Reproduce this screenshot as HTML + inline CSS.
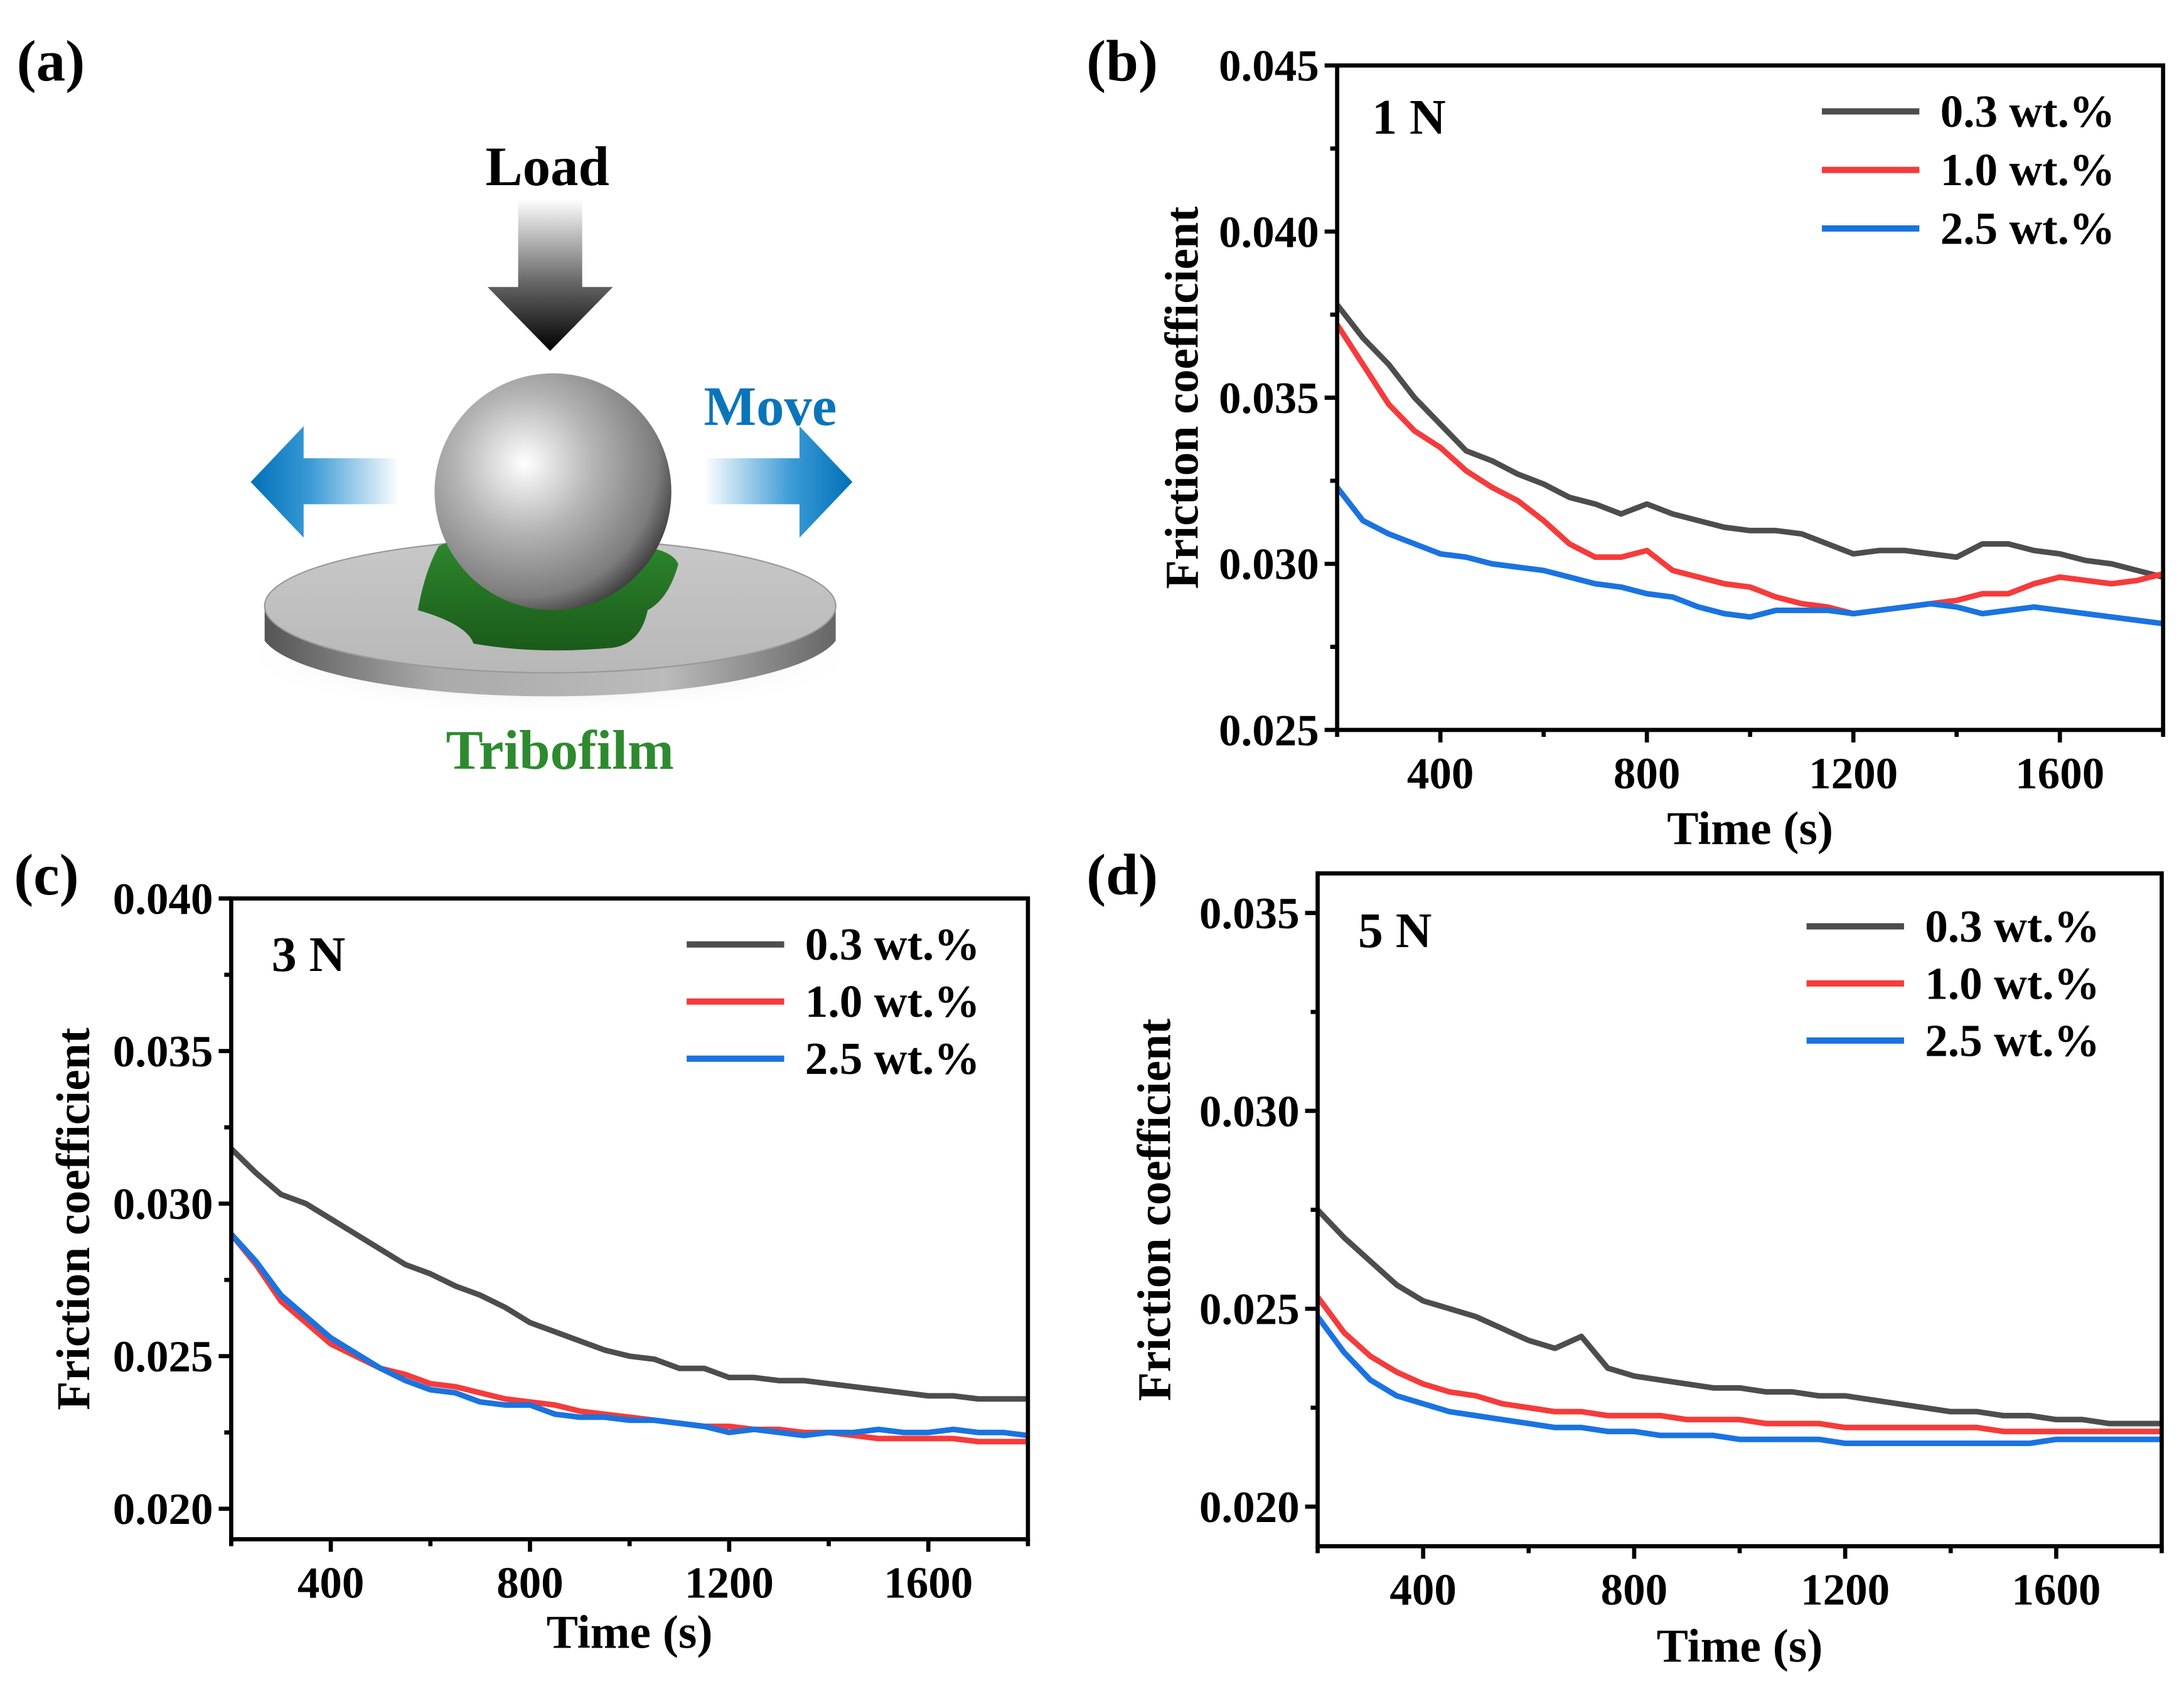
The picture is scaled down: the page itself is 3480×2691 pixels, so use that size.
<!DOCTYPE html>
<html><head><meta charset="utf-8"><title>Friction coefficient figure</title>
<style>
html,body{margin:0;padding:0;background:#fff;}
svg{display:block;font-family:"Liberation Serif",serif;font-weight:bold;}
</style></head>
<body>
<svg id="fig" width="3480" height="2691" viewBox="0 0 1568 1212.5" preserveAspectRatio="none" xmlns="http://www.w3.org/2000/svg">
<defs>
<linearGradient id="gLoad" x1="0" y1="0" x2="0" y2="1"><stop offset="0" stop-color="#fff"/><stop offset="0.55" stop-color="#666"/><stop offset="1" stop-color="#000"/></linearGradient>
<linearGradient id="gLeft" x1="1" y1="0" x2="0" y2="0"><stop offset="0" stop-color="#fff"/><stop offset="0.6" stop-color="#3a9ad6"/><stop offset="1" stop-color="#0070b8"/></linearGradient>
<linearGradient id="gRight" x1="0" y1="0" x2="1" y2="0"><stop offset="0" stop-color="#fff"/><stop offset="0.6" stop-color="#3a9ad6"/><stop offset="1" stop-color="#0070b8"/></linearGradient>
<radialGradient id="gBall" cx="0.38" cy="0.38" r="0.72"><stop offset="0" stop-color="#fff"/><stop offset="0.4" stop-color="#b5b5b5"/><stop offset="0.78" stop-color="#7d7d7d"/><stop offset="1" stop-color="#222"/></radialGradient>
<linearGradient id="gDiscSide" x1="0" y1="0" x2="1" y2="0"><stop offset="0" stop-color="#555"/><stop offset="0.3" stop-color="#aaa"/><stop offset="0.7" stop-color="#bbb"/><stop offset="1" stop-color="#666"/></linearGradient>
<linearGradient id="gDiscTop" x1="0" y1="0" x2="0" y2="1"><stop offset="0" stop-color="#c8c8c8"/><stop offset="1" stop-color="#b8b8b8"/></linearGradient>
<linearGradient id="gFilm" x1="0" y1="0" x2="0" y2="1"><stop offset="0" stop-color="#2e8a2e"/><stop offset="1" stop-color="#1a5a1a"/></linearGradient>
<radialGradient id="gShadow" cx="0.5" cy="0.5" r="0.5"><stop offset="0" stop-color="#888" stop-opacity="0.6"/><stop offset="1" stop-color="#fff" stop-opacity="0"/></radialGradient>
</defs>

<g>
  <text x="12" y="58" font-size="42">(a)</text>
  <text x="393" y="133" font-size="40" text-anchor="middle" fill="#000">Load</text>
  <polygon points="372,143 418,143 418,206 440,206 395,252 350,206 372,206" fill="url(#gLoad)"/>
  <text x="553" y="305" font-size="40" text-anchor="middle" fill="#0a74bb">Move</text>
  <polygon points="287,329 287,362 218,362 218,386 180,346 218,306 218,329" fill="url(#gLeft)"/>
  <polygon points="505,329 505,362 574,362 574,386 612,346 574,306 574,329" fill="url(#gRight)"/>
  <ellipse cx="395" cy="472" rx="225" ry="42" fill="url(#gShadow)"/>
  <path d="M190,435 A208,48 0 0 0 600,435 L600,460 A208,48 0 0 1 190,460 Z" fill="url(#gDiscSide)"/>
  <ellipse cx="395" cy="435" rx="205" ry="48" fill="url(#gDiscTop)" stroke="#999" stroke-width="1"/>
  <path d="M315,392 Q352,375 420,392 Q480,388 487,405 Q480,430 465,438 Q460,462 440,465 Q385,470 340,462 Q335,448 300,438 Q305,410 315,392 Z" fill="url(#gFilm)"/>
  <circle cx="397" cy="353" r="85" fill="url(#gBall)"/>
  <text x="402" y="552" font-size="40" text-anchor="middle" fill="#2e8a2e">Tribofilm</text>
</g>

<g id="charts"></g>
</svg>

<script>
const times = [200,250,300,350,400,450,500,550,600,650,700,750,800,850,900,950,1000,1050,1100,1150,1200,1250,1300,1350,1400,1450,1500,1550,1600,1650,1700,1750,1800];
const seriesNames = ["0.3 wt.%","1.0 wt.%","2.5 wt.%"];
const xTicks = [400,800,1200,1600];

const b_03 = [0.0378,0.0368,0.0360,0.0350,0.0342,0.0334,0.0331,0.0327,0.0324,0.0320,0.0318,0.0315,0.0318,0.0315,0.0313,0.0311,0.0310,0.0310,0.0309,0.0306,0.0303,0.0304,0.0304,0.0303,0.0302,0.0306,0.0306,0.0304,0.0303,0.0301,0.0300,0.0298,0.0296];
const b_10 = [0.0372,0.0360,0.0348,0.0340,0.0335,0.0328,0.0323,0.0319,0.0313,0.0306,0.0302,0.0302,0.0304,0.0298,0.0296,0.0294,0.0293,0.0290,0.0288,0.0287,0.0285,0.0286,0.0287,0.0288,0.0289,0.0291,0.0291,0.0294,0.0296,0.0295,0.0294,0.0295,0.0297];
const b_25 = [0.0323,0.0313,0.0309,0.0306,0.0303,0.0302,0.0300,0.0299,0.0298,0.0296,0.0294,0.0293,0.0291,0.0290,0.0287,0.0285,0.0284,0.0286,0.0286,0.0286,0.0285,0.0286,0.0287,0.0288,0.0287,0.0285,0.0286,0.0287,0.0286,0.0285,0.0284,0.0283,0.0282];
const b_yTicks = [0.025,0.030,0.035,0.040,0.045];

const c_03 = [0.0318,0.0310,0.0303,0.0300,0.0295,0.0290,0.0285,0.0280,0.0277,0.0273,0.0270,0.0266,0.0261,0.0258,0.0255,0.0252,0.0250,0.0249,0.0246,0.0246,0.0243,0.0243,0.0242,0.0242,0.0241,0.0240,0.0239,0.0238,0.0237,0.0237,0.0236,0.0236,0.0236];
const c_10 = [0.0290,0.0280,0.0268,0.0261,0.0254,0.0250,0.0246,0.0244,0.0241,0.0240,0.0238,0.0236,0.0235,0.0234,0.0232,0.0231,0.0230,0.0229,0.0228,0.0227,0.0227,0.0226,0.0226,0.0225,0.0225,0.0224,0.0223,0.0223,0.0223,0.0223,0.0222,0.0222,0.0222];
const c_25 = [0.0290,0.0281,0.0270,0.0263,0.0256,0.0251,0.0246,0.0242,0.0239,0.0238,0.0235,0.0234,0.0234,0.0231,0.0230,0.0230,0.0229,0.0229,0.0228,0.0227,0.0225,0.0226,0.0225,0.0224,0.0225,0.0225,0.0226,0.0225,0.0225,0.0226,0.0225,0.0225,0.0224];
const c_yTicks = [0.020,0.025,0.030,0.035,0.040];

const d_03 = [0.0275,0.0268,0.0262,0.0256,0.0252,0.0250,0.0248,0.0245,0.0242,0.0240,0.0243,0.0235,0.0233,0.0232,0.0231,0.0230,0.0230,0.0229,0.0229,0.0228,0.0228,0.0227,0.0226,0.0225,0.0224,0.0224,0.0223,0.0223,0.0222,0.0222,0.0221,0.0221,0.0221];
const d_10 = [0.0253,0.0244,0.0238,0.0234,0.0231,0.0229,0.0228,0.0226,0.0225,0.0224,0.0224,0.0223,0.0223,0.0223,0.0222,0.0222,0.0222,0.0221,0.0221,0.0221,0.0220,0.0220,0.0220,0.0220,0.0220,0.0220,0.0219,0.0219,0.0219,0.0219,0.0219,0.0219,0.0219];
const d_25 = [0.0248,0.0239,0.0232,0.0228,0.0226,0.0224,0.0223,0.0222,0.0221,0.0220,0.0220,0.0219,0.0219,0.0218,0.0218,0.0218,0.0217,0.0217,0.0217,0.0217,0.0216,0.0216,0.0216,0.0216,0.0216,0.0216,0.0216,0.0216,0.0217,0.0217,0.0217,0.0217,0.0217];
const d_yTicks = [0.020,0.025,0.030,0.035];

const colors = ["#4d4d4d","#f53b3b","#1a73e0"];
const NS = "http://www.w3.org/2000/svg";
const root = document.getElementById("charts");

function mk(tag, attrs, parent){
  const e = document.createElementNS(NS, tag);
  for (const k in attrs) e.setAttribute(k, attrs[k]);
  (parent||root).appendChild(e);
  return e;
}

function panel(p){
  const g = mk("g", {});
  
  
  const xs = v => p.L + (v - p.x0) / (p.x1 - p.x0) * (p.R - p.L);
  const ys = v => p.B - (v - p.y0) / (p.y1 - p.y0) * (p.B - p.T);

  p.series.forEach((arr, si) => {
    const d = arr.map((v,i) => (i?"L":"M") + xs(times[i]).toFixed(2) + "," + ys(v).toFixed(2)).join(" ");
    const path = mk("path", {d:d, fill:"none", stroke:colors[si], "stroke-width":4, "stroke-linejoin":"round"}, g);
    
    
  });

  const frame = mk("rect", {x:p.L, y:p.T, width:p.R-p.L, height:p.B-p.T, fill:"none", stroke:"#000", "stroke-width":3}, g);
  
  

  for (let v = p.x0; v <= p.x1; v += 200) {
    const major = xTicks.indexOf(v) >= 0;
    const t = mk("line", {x1:xs(v), x2:xs(v), y1:p.B, y2:p.B + (major?9:5), stroke:"#000", "stroke-width":3}, g);
    
    
  }
  xTicks.forEach(v => {
    const t = mk("text", {x:xs(v), y:p.B + 42, "font-size":32, "text-anchor":"middle"}, g);
    t.textContent = v;
    
    
  });
  const step = 0.0025;
  for (let k = 0; ; k++) {
    const v = p.yTicks[0] + k*step;
    if (v > p.y1 + 1e-9) break;
    const major = (k % 2 === 0);
    const t = mk("line", {x1:p.L - (major?9:5), x2:p.L, y1:ys(v), y2:ys(v), stroke:"#000", "stroke-width":3}, g);
    
    
  }
  p.yTicks.forEach(v => {
    const t = mk("text", {x:p.L - 13, y:ys(v) + 11, "font-size":32, "text-anchor":"end"}, g);
    t.textContent = v.toFixed(3);
    
    
  });

  const yt = mk("text", {x:0, y:0, "font-size":34, "text-anchor":"middle", transform:"translate(" + p.ytx + "," + ((p.T+p.B)/2) + ") rotate(-90)"}, g);
  yt.textContent = "Friction coefficient";
  
  
  const xt = mk("text", {x:(p.L+p.R)/2, y:p.xty, "font-size":34, "text-anchor":"middle"}, g);
  xt.textContent = "Time (s)";
  
  

  const pl = mk("text", {x:p.plx, y:p.ply, "font-size":42}, g);
  pl.textContent = "(" + p.id + ")";
  
  
  const ll = mk("text", {x:p.nx, y:p.ny, "font-size":36}, g);
  ll.textContent = p.load;
  
  

  seriesNames.forEach((n, si) => {
    const y = p.legY + si*p.legDy;
    const ln = mk("line", {x1:p.legX, x2:p.legX+70, y1:y, y2:y, stroke:colors[si], "stroke-width":4.5}, g);
    
    
    const tx = mk("text", {x:p.legX+85, y:y+11, "font-size":33}, g);
    tx.textContent = n;
    
    
  });
}

panel({id:"b", L:960, R:1553, T:47, B:524, x0:200, x1:1800, y0:0.025, y1:0.045, yTicks:b_yTicks,
  series:[b_03,b_10,b_25], ytx:860, xty:606, plx:780, ply:58, nx:985, ny:96, load:"1 N", legX:1308, legY:80, legDy:42});
panel({id:"c", L:166, R:738, T:645, B:1105, x0:200, x1:1800, y0:0.019, y1:0.040, yTicks:c_yTicks,
  series:[c_03,c_10,c_25], ytx:64, xty:1183, plx:10, ply:642, nx:195, ny:697, load:"3 N", legX:493, legY:678, legDy:41});
panel({id:"d", L:946, R:1552, T:627, B:1110, x0:200, x1:1800, y0:0.019, y1:0.036, yTicks:d_yTicks,
  series:[d_03,d_10,d_25], ytx:840, xty:1193, plx:780, ply:642, nx:975, ny:680, load:"5 N", legX:1297, legY:665, legDy:41});
</script>
</body></html>
